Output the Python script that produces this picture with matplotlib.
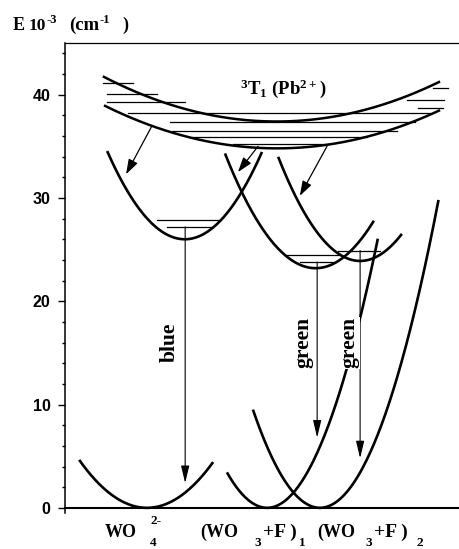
import matplotlib
matplotlib.use("Agg")
import matplotlib.pyplot as plt
import matplotlib.transforms as mtransforms
import numpy as np
from matplotlib.ticker import MultipleLocator

plt.rcParams["mathtext.default"] = "regular"
SERIF = "Liberation Serif"

# configuration coordinate diagram, energies in 10^3 cm^-1
# 3T1 (Pb2+) band: upper and lower bounding curves
pb_center = [5.37, 5.38]
pb_emin = [37.4, 34.8]
pb_k = [0.225, 0.216]
pb_lo = [0.96, 0.99]
pb_hi = [9.52, 9.52]

# hatched vibrational levels inside the Pb2+ band
pb_lev_e = [41.1, 40.1, 39.3, 38.2, 37.4, 36.5, 35.9, 35.2, 40.6, 39.5, 38.7]
pb_lev_lo = [0.96, 1.07, 1.07, 1.60, 2.66, 2.72, 3.22, 4.26, 9.34, 8.68, 8.96]
pb_lev_hi = [1.73, 2.34, 3.05, 9.26, 8.88, 8.43, 7.66, 6.73, 9.72, 9.62, 9.59]

# excited states: WO4(2-), (WO3+F)1, (WO3+F)2
exc_center = [3.04, 6.36, 7.49]
exc_emin = [26.0, 23.2, 23.9]
exc_k = [2.2, 2.1, 2.33]
exc_lo = [1.07, 4.06, 5.41]
exc_hi = [5.0, 7.84, 8.55]

exc_lev_e = [27.9, 27.2, 24.5, 23.8, 24.9]
exc_lev_lo = [2.34, 2.59, 5.63, 5.96, 6.93]
exc_lev_hi = [3.93, 3.73, 6.98, 6.80, 8.0]

# ground states
gnd_center = [2.08, 5.13, 6.47]
gnd_k = [1.57, 3.3, 3.29]
gnd_lo = [0.36, 4.11, 4.77]
gnd_hi = [3.76, 7.94, 9.48]

# energy transfer Pb2+ -> centres
tr_q0 = [2.21, 4.90, 6.65]
tr_e0 = [37.0, 35.0, 35.0]
tr_q1 = [1.55, 4.39, 5.96]
tr_e1 = [32.3, 32.5, 30.2]

# emission
em_q = [3.05, 6.40, 7.49]
em_top = [27.2, 23.8, 24.9]
em_bottom = [2.4, 6.8, 4.8]
em_names = ["blue", "green", "green"]
em_label_q = [2.66, 6.04, 7.21]

# centre labels, written piece by piece: (text, size, raise px, gap px, advance)
centre_label_q = [1.02, 3.43, 6.40]
centre_parts = [
    [("WO", 13, 0, 0, True), ("4", 9.5, -9, 13, False), ("2-", 9.5, 13, 13, True)],
    [("(WO", 13, 0, 0, True), ("3", 9.5, -9, 16, True), ("+F )", 14, 0, 2, True),
     ("1", 9.5, -9, 2, True)],
    [("(WO", 13, 0, 0, True), ("3", 9.5, -9, 10, True), ("+F )", 14, 0, 2, True),
     ("2", 9.5, -9, 9, True)],
]
ylabel_parts = [("E", 13, 0, 0, True), ("10", 12.5, 0, 3, True), ("-3", 9, 7, 1, True),
                ("(cm", 13.5, 0, 12, True), ("-1", 9, 7, 0, True), (")", 13, 0, 13, True)]


def well(ax, q0, e0, k, lo, hi, lw=1.9):
    q = np.linspace(lo, hi, 200)
    ax.plot(q, e0 + k * (q - q0) ** 2, color="k", lw=lw,
            solid_capstyle="butt", zorder=2)


def pieced_text(ax, x, y, parts, transform):
    renderer = ax.figure.canvas.get_renderer()
    cursor = 0.0
    for text, size, dy, gap, advance in parts:
        tr = mtransforms.offset_copy(transform, fig=ax.figure, x=cursor + gap,
                                     y=dy, units="dots")
        t = ax.text(x, y, text, transform=tr, fontsize=size, family=SERIF,
                    fontweight="bold", ha="left", va="baseline", clip_on=False)
        if advance:
            cursor += gap + t.get_window_extent(renderer).width


fig = plt.figure(figsize=(4.59, 5.49), dpi=100)
ax = fig.add_axes([65 / 459, 36 / 549, 394 / 459, 470 / 549])
ax.set_xlim(0, 10)
ax.set_ylim(-0.5, 45)

for i in range(2):
    well(ax, pb_center[i], pb_emin[i], pb_k[i], pb_lo[i], pb_hi[i], lw=1.8)
for e, lo, hi in zip(pb_lev_e, pb_lev_lo, pb_lev_hi):
    ax.plot([lo, hi], [e, e], color="k", lw=0.9)

for i in range(3):
    well(ax, exc_center[i], exc_emin[i], exc_k[i], exc_lo[i], exc_hi[i])
    well(ax, gnd_center[i], 0.0, gnd_k[i], gnd_lo[i], gnd_hi[i])
for e, lo, hi in zip(exc_lev_e, exc_lev_lo, exc_lev_hi):
    ax.plot([lo, hi], [e, e], color="k", lw=0.9)

for q0, e0, q1, e1 in zip(tr_q0, tr_e0, tr_q1, tr_e1):
    ax.annotate("", xy=(q1, e1), xytext=(q0, e0),
                arrowprops=dict(arrowstyle="-|>,head_length=0.9,head_width=0.3",
                                color="k", lw=0.9, shrinkA=0, shrinkB=0))

for q, top, bot in zip(em_q, em_top, em_bottom):
    ax.annotate("", xy=(q, bot), xytext=(q, top),
                arrowprops=dict(arrowstyle="-|>,head_length=1.05,head_width=0.25",
                                color="k", lw=0.8, shrinkA=0, shrinkB=0))
for name, q in zip(em_names, em_label_q):
    ax.text(q, 16.0, name, rotation=90, ha="center", va="center",
            family=SERIF, fontweight="bold", fontsize=15.5, zorder=3,
            bbox=dict(facecolor="white", edgecolor="none", pad=0.3))

ax.text(5.55, 40.1, r"$^{3}$T$_{1}$ (Pb$^{2+}$)", ha="center", va="baseline",
        family=SERIF, fontweight="bold", fontsize=13.5)

for parts, q in zip(centre_parts, centre_label_q):
    pieced_text(ax, q, -2.8, parts, ax.transData)

pieced_text(ax, (13 - 65) / 394, (519 - 36) / 470, ylabel_parts, ax.transAxes)

# axes frame: open on the right, x axis at E = 0
ax.spines["right"].set_visible(False)
ax.spines["bottom"].set_position(("data", 0))
ax.spines["bottom"].set_linewidth(1.5)
ax.spines["left"].set_linewidth(1.1)
ax.spines["top"].set_linewidth(0.9)
ax.set_xticks([])
ax.set_yticks(range(0, 41, 10))
ax.yaxis.set_minor_locator(MultipleLocator(2))
ax.tick_params(axis="y", which="major", direction="out", length=5, width=1,
               pad=5.5, labelsize=11.5)
ax.tick_params(axis="y", which="minor", direction="out", length=2.5, width=1)
for lab in ax.get_yticklabels():
    lab.set_fontweight("bold")
    lab.set_family("Liberation Sans")

fig.savefig("out.png", dpi=100)
